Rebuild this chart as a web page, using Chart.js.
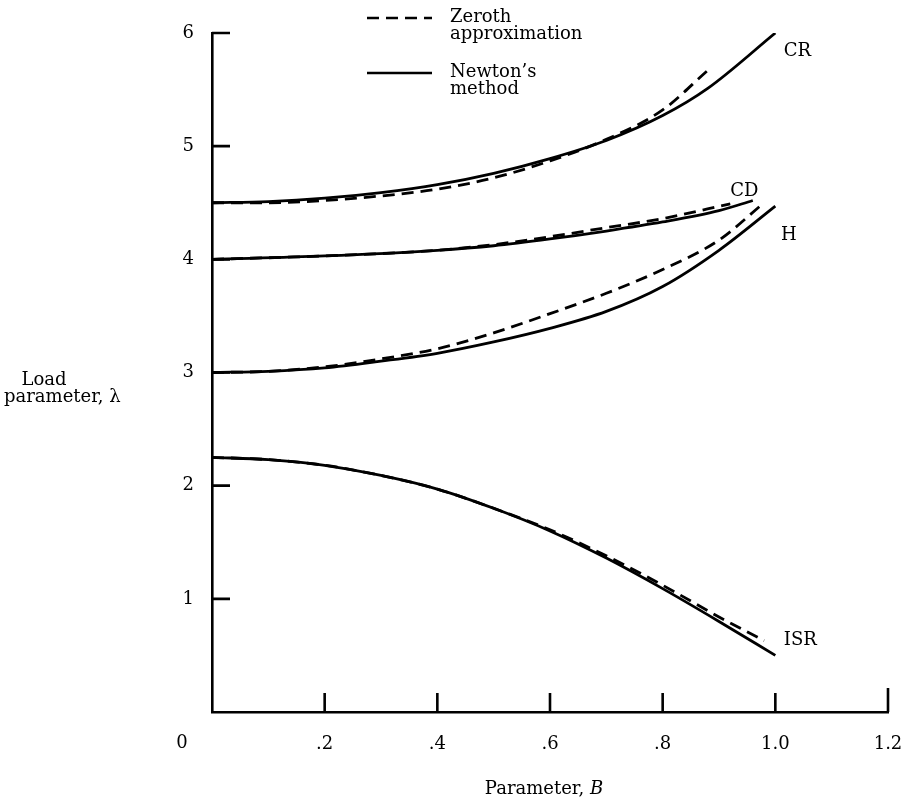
<!DOCTYPE html>
<html>
<head>
<meta charset="utf-8">
<script src="https://cdn.jsdelivr.net/npm/chart.js@4.4.0/dist/chart.umd.min.js"></script>
<style>
html,body{margin:0;padding:0;background:#fff}
#wrap{width:906px;height:801px}
</style>
</head>
<body>
<div id="wrap"><canvas id="chart"></canvas></div>
<script>
// values (B, lambda)
const crB=[0,0.1,0.2,0.3,0.4,0.5,0.6,0.7,0.8,0.88,1.0]
const crNewton=[4.50,4.51,4.54,4.59,4.66,4.76,4.89,5.05,5.27,5.51,6.0]
const crZerothB=[0,0.1,0.2,0.3,0.4,0.5,0.6,0.7,0.8,0.88]
const crZeroth=[4.50,4.50,4.52,4.56,4.62,4.72,4.87,5.06,5.32,5.67]

const cdB=[0,0.2,0.4,0.5,0.6,0.7,0.8,0.9,0.96]
const cdNewton=[4.00,4.03,4.08,4.12,4.18,4.25,4.33,4.43,4.52]
const cdZerothB=[0,0.2,0.4,0.5,0.6,0.7,0.8,0.92]
const cdZeroth=[4.00,4.03,4.08,4.13,4.20,4.28,4.36,4.49]

const hB=[0,0.1,0.2,0.3,0.4,0.5,0.6,0.7,0.8,0.9,1.0]
const hNewton=[3.00,3.01,3.04,3.10,3.17,3.27,3.39,3.54,3.76,4.08,4.47]
const hZerothB=[0,0.1,0.2,0.3,0.4,0.5,0.6,0.7,0.8,0.9,0.98]
const hZeroth=[3.00,3.01,3.05,3.12,3.21,3.35,3.52,3.70,3.91,4.17,4.50]

const isrB=[0,0.1,0.2,0.3,0.4,0.5,0.6,0.7,0.8,0.9,1.0]
const isrNewton=[2.25,2.23,2.18,2.09,1.97,1.80,1.60,1.36,1.09,0.80,0.50]
const isrZerothB=[0,0.1,0.2,0.3,0.4,0.5,0.6,0.7,0.8,0.9,0.98]
const isrZeroth=[2.25,2.23,2.18,2.09,1.97,1.80,1.61,1.38,1.12,0.84,0.63]

const xTicks=[0.2,0.4,0.6,0.8,1.0,1.2]
const xTickLabels=['.2','.4','.6','.8','1.0','1.2']
const yTicks=[1,2,3,4,5,6]
const yTickLabels=['1','2','3','4','5','6']

// curve names, placed near the curve ends (B, lambda)
const curveNames=['CR','CD','H','ISR']
const nameB=[1.015,0.92,1.01,1.015]
const nameLambda=[5.84,4.60,4.21,0.63]

const FONT='"DejaVu Serif", serif'
const pts=(xs,ys)=>xs.map((x,i)=>({x:x,y:ys[i]}))

function line(xs,ys,dashed){
    return {
        data:pts(xs,ys),
        borderColor:'#000',
        borderWidth:2.8,
        borderDash:dashed?[12,7]:[],
        pointRadius:0,
        fill:false,
        cubicInterpolationMode:'monotone'
    }
}

// ticks pointing inward, the extra labels and the legend block
const decor={
    id:'decor',
    afterDraw(c){
        const ctx=c.ctx, xs=c.scales.x, ys=c.scales.y, a=c.chartArea
        ctx.save()
        ctx.strokeStyle='#000'
        ctx.lineWidth=2.6
        ctx.beginPath()
        xTicks.forEach(v=>{
            const px=xs.getPixelForValue(v)
            ctx.moveTo(px,a.bottom); ctx.lineTo(px,a.bottom-(v==1.2?24:19))
        })
        yTicks.forEach(v=>{
            const py=ys.getPixelForValue(v)
            ctx.moveTo(a.left,py); ctx.lineTo(a.left+18,py)
        })
        ctx.stroke()

        ctx.fillStyle='#000'
        ctx.font='18px '+FONT
        ctx.textBaseline='middle'

        // origin label
        ctx.textAlign='center'
        ctx.fillText('0',xs.getPixelForValue(0)-30,a.bottom+31)

        // curve names
        ctx.textAlign='left'
        curveNames.forEach((n,i)=>{
            ctx.fillText(n,xs.getPixelForValue(nameB[i]),ys.getPixelForValue(nameLambda[i]))
        })

        // y axis title, horizontal, two lines
        ctx.textAlign='center'
        ctx.fillText('Load',44,380)
        ctx.textAlign='left'
        ctx.fillText('parameter, \u03bb',4,397)

        // x axis title with italic B
        const t1='Parameter, '
        const w1=ctx.measureText(t1).width
        ctx.font='italic 18px '+FONT
        const w2=ctx.measureText('B').width
        const cx=(a.left+a.right)/2-6
        const x0=cx-(w1+w2)/2
        ctx.font='18px '+FONT
        ctx.fillText(t1,x0,789)
        ctx.font='italic 18px '+FONT
        ctx.fillText('B',x0+w1,789)

        // legend
        ctx.font='18px '+FONT
        ctx.lineWidth=2.6
        ctx.setLineDash([12,7])
        ctx.beginPath(); ctx.moveTo(367,18); ctx.lineTo(432,18); ctx.stroke()
        ctx.setLineDash([])
        ctx.beginPath(); ctx.moveTo(367,73); ctx.lineTo(432,73); ctx.stroke()
        ctx.fillText('Zeroth',450,17)
        ctx.fillText('approximation',450,34)
        ctx.fillText('Newton\u2019s',450,72)
        ctx.fillText('method',450,89)
        ctx.restore()
    }
}

const chart=document.querySelector('#chart').getContext('2d')

new Chart(chart,{
    type:'line',
    data:{
        datasets:[
            line(crB,crNewton,false),
            line(crZerothB,crZeroth,true),
            line(cdB,cdNewton,false),
            line(cdZerothB,cdZeroth,true),
            line(hB,hNewton,false),
            line(hZerothB,hZeroth,true),
            line(isrB,isrNewton,false),
            line(isrZerothB,isrZeroth,true)
        ]
    },
    options:{
        responsive:true,
        maintainAspectRatio:false,
        animation:false,
        layout:{padding:{left:0,right:18,top:33,bottom:0}},
        plugins:{legend:{display:false},tooltip:{enabled:false}},
        scales:{
            x:{
                type:'linear',
                min:0,max:1.2,
                afterBuildTicks:s=>{s.ticks=xTicks.map(v=>({value:v}))},
                afterFit:s=>{s.height=89;s.paddingLeft=0;s.paddingRight=0},
                grid:{display:false,drawTicks:false},
                border:{display:true,color:'#000',width:2.6},
                ticks:{
                    color:'#000',
                    font:{family:FONT,size:18},
                    padding:22,
                    maxRotation:0,
                    autoSkip:false,
                    callback:v=>{const i=xTicks.indexOf(v);return i<0?'':xTickLabels[i]}
                }
            },
            y:{
                type:'linear',
                min:0,max:6,
                afterBuildTicks:s=>{s.ticks=yTicks.map(v=>({value:v}))},
                afterFit:s=>{s.width=212;s.paddingTop=0;s.paddingBottom=0},
                grid:{display:false,drawTicks:false},
                border:{display:true,color:'#000',width:2.6},
                ticks:{
                    color:'#000',
                    font:{family:FONT,size:18},
                    padding:18,
                    autoSkip:false,
                    callback:v=>{const i=yTicks.indexOf(v);return i<0?'':yTickLabels[i]}
                }
            }
        }
    },
    plugins:[decor]
})
</script>
</body>
</html>
